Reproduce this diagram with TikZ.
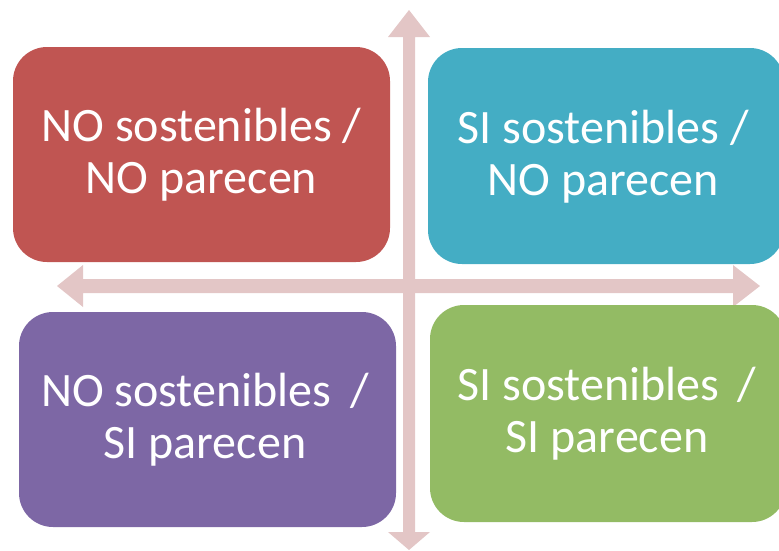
\documentclass[tikz,border=0pt]{standalone}
\usepackage{fontspec}
\setmainfont{Carlito}
\definecolor{cred}{HTML}{C05552}
\definecolor{cteal}{HTML}{44ADC4}
\definecolor{cpurple}{HTML}{7D67A5}
\definecolor{cgreen}{HTML}{93BB64}
\definecolor{carrow}{HTML}{E3C6C6}
\begin{document}
\begin{tikzpicture}[x=1pt,y=-1pt,
  quad/.style={rounded corners=34pt, inner sep=0pt, draw=none},
  lbl/.style={text=white, align=center, font=\fontsize{48}{52}\selectfont},
  axis/.style={fill=carrow, draw=none}]
\useasboundingbox (0,0) rectangle (779,550);
% axes
\coordinate (top) at (409,10);
\coordinate (bot) at (409,550);
\coordinate (lft) at (57,286);
\coordinate (rgt) at (760,286);
\fill[axis] (top) -- (430,37) -- (415,37) -- (415,532) -- (430,532) -- (bot)
  -- (388,532) -- (403,532) -- (403,37) -- (388,37) -- cycle;
\fill[axis] (lft) -- (83,265) -- (83,279) -- (733,279) -- (733,265) -- (rgt)
  -- (733,307) -- (733,293) -- (83,293) -- (83,307) -- cycle;
% quadrants
\fill[cred, quad] (13,47) rectangle (390,262);
\fill[cteal, quad] (428,48) rectangle (784,264);
\fill[cpurple, quad] (19,312) rectangle (396,527);
\fill[cgreen, quad] (430,305) rectangle (786,522);
\node[lbl] (q1) at (201.5,155) {NO sostenibles /\\NO parecen};
\node[lbl] (q2) at (603,157) {SI sostenibles /\\NO parecen};
\node[lbl] (q3) at (205,420) {NO sostenibles \,/\\SI parecen};
\node[lbl] (q4) at (607,414) {SI sostenibles \,/\\SI parecen};
\end{tikzpicture}
\end{document}
